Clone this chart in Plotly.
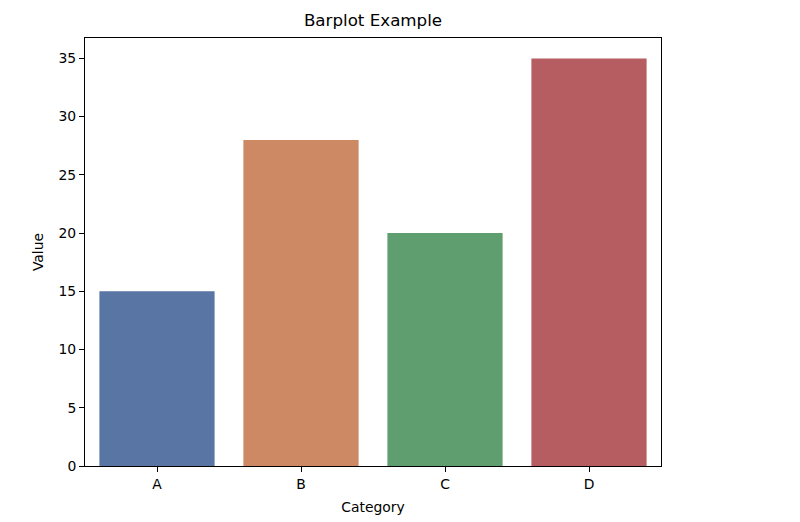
import plotly.graph_objects as go

categories = ["A", "B", "C", "D"]
values = [15, 28, 20, 35]
colors = ["#5975a4", "#cc8963", "#5f9e6e", "#b55d60"]
y_ticks = [0, 5, 10, 15, 20, 25, 30, 35]

fig = go.Figure(go.Bar(x=categories, y=values, marker=dict(color=colors, line=dict(width=0)), width=0.8))

font = "DejaVu Sans, sans-serif"
fig.update_layout(
    width=800, height=522,
    margin=dict(l=77, r=147, t=30, b=64),
    paper_bgcolor="white", plot_bgcolor="white",
    font=dict(family=font, size=13.9, color="black"),
    title=dict(text="Barplot Example", x=(77 + 653) / 2 / 800, xanchor="center", y=1 - 12 / 522, yanchor="middle",
               font=dict(size=16.7, family=font, color="black")),
    showlegend=False,
    bargap=0.2,
)
fig.update_xaxes(
    range=[-0.5, 3.5], showline=True, linecolor="black", linewidth=1, mirror=True,
    ticks="outside", ticklen=5, tickcolor="black", showgrid=False,
    title=dict(text="Category", standoff=11, font=dict(size=13.9)),
)
fig.update_yaxes(
    range=[0, 36.75], showline=True, linecolor="black", linewidth=1, mirror=True,
    ticks="outside", ticklen=5, tickcolor="black", showgrid=False, zeroline=False,
    tickvals=y_ticks, ticktext=[str(v) for v in y_ticks],
    title=dict(text="Value", standoff=11, font=dict(size=13.9)),
)
fig.write_html("out.html")
